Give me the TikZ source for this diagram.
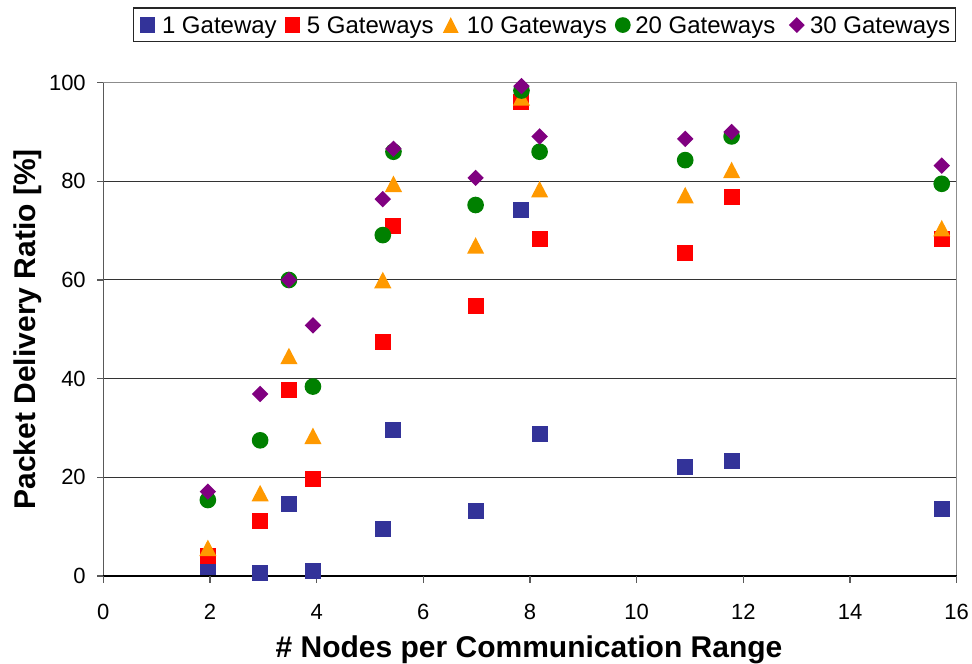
\documentclass[tikz,border=0pt]{standalone}
\usepackage{fontspec}
\setmainfont{Liberation Sans}
\usetikzlibrary{shapes.geometric}
\definecolor{sBlue}{HTML}{333399}
\definecolor{sRed}{HTML}{FF0000}
\definecolor{sOrange}{HTML}{FF9900}
\definecolor{sGreen}{HTML}{008000}
\definecolor{sPurple}{HTML}{800080}
\begin{document}
\begin{tikzpicture}[
  bluemark/.style={rectangle, fill=sBlue, inner sep=0pt, minimum size=12pt},
  redmark/.style={rectangle, fill=sRed, inner sep=0pt, minimum size=12pt},
  tribox/.style={rectangle, inner sep=0pt, minimum width=12.5pt, minimum height=12pt},
  greenmark/.style={circle, fill=sGreen, inner sep=0pt, minimum size=12.5pt},
  purplemark/.style={diamond, aspect=1, fill=sPurple, inner sep=0pt, minimum size=12.5pt},
  ticklab/.style={font=\fontsize{16.5}{18}\selectfont, inner sep=0pt},
  legtext/.style={font=\fontsize{18}{20}\selectfont, anchor=base west, inner sep=0pt},
  axtitle/.style={font=\bfseries\fontsize{22.5}{26}\selectfont, inner sep=0pt},
  gridline/.style={draw=black!80, line width=0.75pt},
  framegray/.style={draw=black!45, line width=1.2pt},
  axisleft/.style={draw=black!65, line width=1.2pt},
  axisbottom/.style={draw=black, line width=1pt},
  tickmark/.style={draw=black!65, line width=0.9pt}
]
\useasboundingbox (0,0) rectangle (729pt,498pt);

\begin{scope}[shift={(77.5pt,66pt)}, x=40pt, y=3.7pt]
  % grid
  \foreach \g in {20,40,60,80} \draw[gridline] (0,\g) -- (16,\g);
  \draw[framegray] (0,100) -- (16,100) -- (16,0);
  % axes
  \draw[axisleft] (0,0) -- (0,100);
  \draw[axisbottom] (0,0) -- (16,0);
  \foreach \g in {0,20,...,100} {
    \draw[tickmark] (0,\g) -- ++(-5pt,0);
    \node[ticklab, anchor=east] (yl\g) at ([xshift=-13pt]0,\g) {\g};
  }
  \foreach \t in {0,2,...,16} {
    \draw[tickmark] (\t,0) -- ++(0,-5pt);
    \node[ticklab, anchor=base] (xl\t) at ([yshift=-33pt]\t,0) {\t};
  }

  % 1 Gateway
  \foreach \xv/\yv [count=\i] in {1.96/1.8, 2.94/0.7, 3.48/14.5, 3.93/1.1, 5.24/9.5, 5.44/29.5, 6.98/13.2, 7.84/74.2, 8.18/28.8, 10.91/22.0, 11.78/23.3, 15.72/13.6}
    \node[bluemark] (b\i) at (\xv,\yv) {};
  % 5 Gateways
  \foreach \xv/\yv [count=\i] in {1.96/4.1, 2.94/11.1, 3.48/37.7, 3.93/19.7, 5.24/47.4, 5.44/71.0, 6.98/54.8, 7.84/96.1, 8.18/68.4, 10.91/65.4, 11.78/76.8, 15.72/68.4}
    \node[redmark] (r\i) at (\xv,\yv) {};
  % 10 Gateways
  \foreach \xv/\yv [count=\i] in {1.96/5.7, 2.94/16.8, 3.48/44.6, 3.93/28.4, 5.24/60.0, 5.44/79.5, 6.98/67.0, 7.84/97.0, 8.18/78.4, 10.91/77.2, 11.78/82.3, 15.72/70.5} {
    \node[tribox] (o\i) at (\xv,\yv) {};
    \fill[sOrange] (o\i.south west) -- (o\i.south east) -- (o\i.north) -- cycle;
  }
  % 20 Gateways
  \foreach \xv/\yv [count=\i] in {1.96/15.4, 2.94/27.5, 3.48/60.0, 3.93/38.4, 5.24/69.1, 5.44/86.0, 6.98/75.2, 7.84/98.4, 8.18/86.0, 10.91/84.3, 11.78/89.1, 15.72/79.5}
    \node[greenmark] (g\i) at (\xv,\yv) {};
  % 30 Gateways
  \foreach \xv/\yv [count=\i] in {1.96/17.1, 2.94/36.9, 3.48/60.0, 3.93/50.8, 5.24/76.4, 5.44/86.6, 6.98/80.7, 7.84/99.3, 8.18/89.1, 10.91/88.6, 11.78/90.0, 15.72/83.2}
    \node[purplemark] (p\i) at (\xv,\yv) {};
\end{scope}

% axis titles
\node[axtitle, anchor=base] (xtitle) at (396.75pt,4.5pt) {\# Nodes per Communication Range};
\node[axtitle, rotate=90, anchor=base] (ytitle) at (27pt,251pt) {Packet Delivery Ratio [\%]};

% legend
\node[draw=black!85, line width=0.9pt, inner sep=0pt, minimum width=616.75pt, minimum height=25.25pt, anchor=north west] (legend) at (99.5pt,492.5pt) {};
\node[bluemark, minimum size=11.5pt] (lb) at (110.8pt,479.2pt) {};
\node[legtext] (lbt) at (121.3pt,473pt) {1 Gateway};
\node[redmark, minimum size=11.5pt] (lr) at (219.6pt,479.2pt) {};
\node[legtext] (lrt) at (230pt,473pt) {5 Gateways};
\node[tribox, minimum width=11.5pt, minimum height=11.5pt] (lo) at (338.1pt,479.2pt) {};
\fill[sOrange] (lo.south west) -- (lo.south east) -- (lo.north) -- cycle;
\node[legtext] (lot) at (350pt,473pt) {10 Gateways};
\node[greenmark, minimum size=11.8pt] (lg) at (467.1pt,479.2pt) {};
\node[legtext] (lgt) at (476.25pt,473pt) {20 Gateways};
\node[purplemark, minimum size=12pt] (lp) at (597.6pt,479.2pt) {};
\node[legtext] (lpt) at (607.35pt,473pt) {30 Gateways};
\end{tikzpicture}
\end{document}
